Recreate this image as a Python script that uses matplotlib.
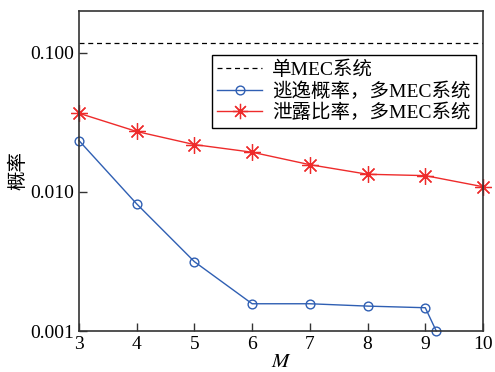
import matplotlib.pyplot as plt
from matplotlib.ticker import FixedLocator, NullLocator, FixedFormatter
from matplotlib.lines import Line2D

plt.rcParams['font.family'] = ['Liberation Serif', 'Noto Sans CJK SC']
plt.rcParams['mathtext.fontset'] = 'stix'

# data
single_level = 0.117
m_blue = [3, 4, 5, 6, 7, 8, 9, 9.19]
escape = [0.0234, 0.0082, 0.00315, 0.00157, 0.00157, 0.00151, 0.00147, 0.001]
m_red = [3, 4, 5, 6, 7, 8, 9, 10]
leak = [0.0368, 0.0272, 0.0219, 0.0193, 0.0157, 0.0134, 0.0131, 0.0109]

blue = '#2f5fb3'
red = '#ee2b2b'
star = (8, 2, 0)

fig = plt.figure(figsize=(4.95, 3.72), dpi=100)
ax = fig.add_axes([79 / 495, 1 - 331 / 372, 404 / 495, 320 / 372])

ax.axhline(single_level, color='black', linestyle='--', linewidth=0.9, dashes=(4, 3))
ax.plot(m_blue, escape, color=blue, linewidth=1.0, marker='o', markersize=6.3,
        markerfacecolor='none', markeredgewidth=1.0, clip_on=False)
ax.plot(m_red, leak, color=red, linewidth=1.0, marker=star, markersize=12,
        markeredgewidth=0.9, clip_on=False)

ax.set_yscale('log')
ax.set_xlim(3, 10)
ax.set_ylim(0.001, 0.2)
ax.yaxis.set_major_locator(FixedLocator([0.001, 0.01, 0.1]))
ax.yaxis.set_major_formatter(FixedFormatter(['0.001', '0.010', '0.100']))
ax.yaxis.set_minor_locator(NullLocator())
ax.set_xticks(range(3, 11))

for s in ax.spines.values():
    s.set_color('#333333')
    s.set_linewidth(1.2)
ax.tick_params(direction='in', length=6, width=1.0, labelsize=14, color='#333333',
               top=False, right=False)

ax.set_xlabel('$M$', fontsize=15, labelpad=0)
ax.set_ylabel('概率', fontsize=14, labelpad=2)

handles = [
    Line2D([], [], color='black', linestyle='--', linewidth=0.9, dashes=(4, 3)),
    Line2D([], [], color=blue, linewidth=1.0, marker='o', markersize=6.3,
           markerfacecolor='none', markeredgewidth=1.0),
    Line2D([], [], color=red, linewidth=1.0, marker=star, markersize=11,
           markeredgewidth=0.9),
]
labels = ['单MEC系统', '逃逸概率，多MEC系统', '泄露比率，多MEC系统']
leg = ax.legend(handles, labels, loc='upper right', bbox_to_anchor=(0.983, 0.863),
                fontsize=14, frameon=True, fancybox=False, edgecolor='black',
                framealpha=1, borderpad=0.3, labelspacing=0.15, handlelength=2.3,
                handletextpad=0.5, borderaxespad=0)
leg.get_frame().set_linewidth(1.0)

fig.savefig('out.png', dpi=100)
